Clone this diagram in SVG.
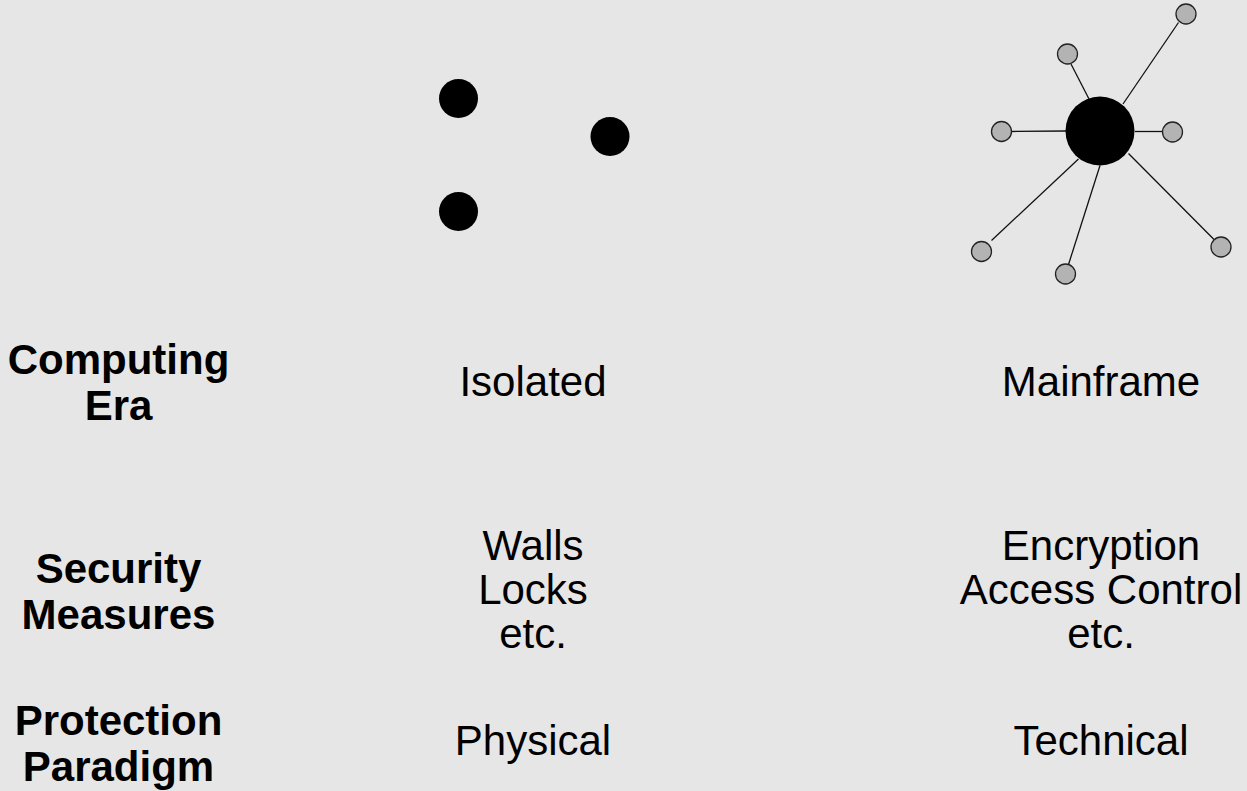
<svg xmlns="http://www.w3.org/2000/svg" width="1247" height="791" viewBox="0 0 1247 791">
<style>
.lbl{font-family:"Liberation Sans",Arial,sans-serif;font-size:42px;font-weight:bold;fill:#000;text-anchor:middle}
.txt{font-family:"Liberation Sans",Arial,sans-serif;font-size:42px;fill:#000;text-anchor:middle}
.big{fill:#000}
.sat{fill:#b3b3b3;stroke:#222;stroke-width:1.3}
.edge{stroke:#111;stroke-width:1.3;fill:none}
</style>
<rect width="1247" height="791" fill="#e6e6e6"/>
<g id="isolated-nodes">
<circle class="big" cx="458.5" cy="98.5" r="19.5"/>
<circle class="big" cx="610" cy="136.5" r="19.5"/>
<circle class="big" cx="458.5" cy="211.5" r="19.5"/>
</g>
<g id="connectors">
<line class="edge" x1="1123" y1="104" x2="1178.5" y2="22.5"/>
<line class="edge" x1="1089" y1="99" x2="1071" y2="64"/>
<line class="edge" x1="1011.5" y1="131.5" x2="1066" y2="131"/>
<line class="edge" x1="1135" y1="131.5" x2="1163" y2="131.5"/>
<line class="edge" x1="1078.5" y1="159" x2="991.5" y2="240.5"/>
<line class="edge" x1="1100" y1="165.5" x2="1068.5" y2="264.5"/>
<line class="edge" x1="1128.5" y1="153.5" x2="1214" y2="239.5"/>
</g>
<g id="mainframe-hub"><circle class="big" cx="1100" cy="131" r="34.5"/></g>
<g id="sat-1"><circle class="sat" cx="1186" cy="14" r="10"/></g>
<g id="sat-2"><circle class="sat" cx="1067.5" cy="54" r="10"/></g>
<g id="sat-3"><circle class="sat" cx="1001.5" cy="131.5" r="10"/></g>
<g id="sat-4"><circle class="sat" cx="1172.5" cy="132" r="10"/></g>
<g id="sat-5"><circle class="sat" cx="981.5" cy="251.5" r="10"/></g>
<g id="sat-6"><circle class="sat" cx="1065.5" cy="274" r="10"/></g>
<g id="sat-7"><circle class="sat" cx="1221" cy="247" r="10"/></g>
<g id="row-labels">
<text class="lbl" x="118.5" y="373.5">Computing</text>
<text class="lbl" x="118.5" y="420">Era</text>
<text class="lbl" x="118.5" y="582.5">Security</text>
<text class="lbl" x="118.5" y="629">Measures</text>
<text class="lbl" x="118.5" y="735">Protection</text>
<text class="lbl" x="118.5" y="780.5">Paradigm</text>
</g>
<g id="isolated-col">
<text class="txt" x="533" y="395.5">Isolated</text>
<text class="txt" x="533" y="560">Walls</text>
<text class="txt" x="533" y="603.5">Locks</text>
<text class="txt" x="533" y="648">etc.</text>
<text class="txt" x="533" y="755">Physical</text>
</g>
<g id="mainframe-col">
<text class="txt" x="1101" y="395.5">Mainframe</text>
<text class="txt" x="1101" y="559.5">Encryption</text>
<text class="txt" x="1101" y="603.5">Access Control</text>
<text class="txt" x="1101" y="648">etc.</text>
<text class="txt" x="1101" y="755">Technical</text>
</g>
</svg>
